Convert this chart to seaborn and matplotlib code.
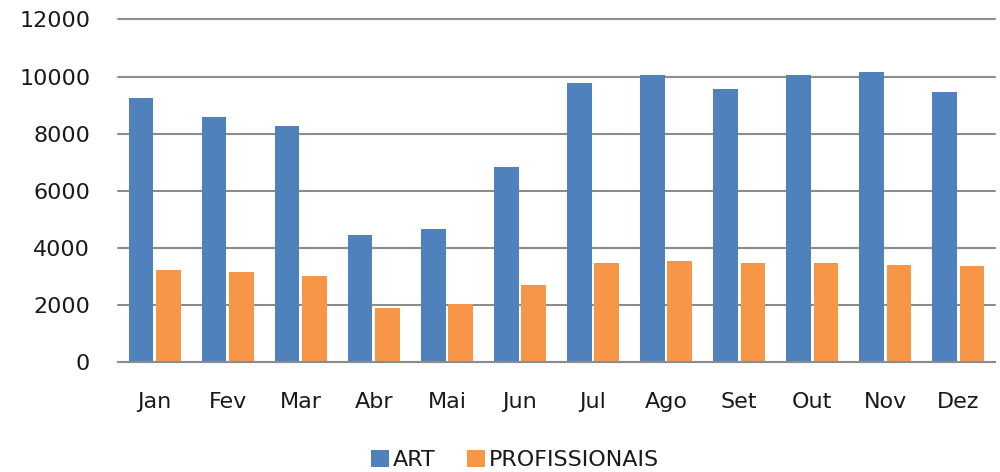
import matplotlib
matplotlib.use("Agg")
import matplotlib.pyplot as plt
import seaborn as sns
import pandas as pd

months = ["Jan", "Fev", "Mar", "Abr", "Mai", "Jun", "Jul", "Ago", "Set", "Out", "Nov", "Dez"]
art = [9250, 8570, 8260, 4450, 4660, 6840, 9780, 10070, 9550, 10070, 10150, 9470]
prof = [3250, 3180, 3010, 1890, 2030, 2710, 3480, 3550, 3480, 3480, 3400, 3390]
series_names = ["ART", "PROFISSIONAIS"]
yticks = [0, 2000, 4000, 6000, 8000, 10000, 12000]

df = pd.DataFrame({
    "Mes": months * 2,
    "Valor": art + prof,
    "Serie": [series_names[0]] * len(months) + [series_names[1]] * len(months),
})

sns.set_theme(style="white")
plt.rcParams["font.family"] = ["DejaVu Sans"]

fig = plt.figure(figsize=(10, 4.72), dpi=100)
ax = fig.add_axes([0.118, 0.232, 0.877, 0.727])

palette = {"ART": "#4F81BD", "PROFISSIONAIS": "#F79646"}
sns.barplot(data=df, x="Mes", y="Valor", hue="Serie", order=months,
            hue_order=series_names, palette=palette, width=0.75, gap=0.1,
            saturation=1, ax=ax, zorder=3, edgecolor="none")

ax.set_ylim(0, 12000)
ax.set_xlim(-0.5, len(months) - 0.5)
ax.set_yticks(yticks)
ax.set_yticklabels([str(v) for v in yticks])
ax.yaxis.grid(True, color="#8C8C8C", linewidth=1.5, zorder=0)
for gl in ax.get_ygridlines():
    gl.set_clip_on(False)
ax.set_axisbelow(True)
for s in ["top", "right", "left"]:
    ax.spines[s].set_visible(False)
ax.spines["bottom"].set_color("#8C8C8C")
ax.spines["bottom"].set_linewidth(1.5)
ax.spines["bottom"].set_zorder(4)
ax.tick_params(axis="y", length=0, pad=20, labelsize=16, labelcolor="#1a1a1a")
ax.tick_params(axis="x", length=0, pad=21, labelsize=16, labelcolor="#1a1a1a")
ax.set_xlabel("")
ax.set_ylabel("")

leg = ax.legend(loc="center", bbox_to_anchor=(0.453, -0.284), ncol=2,
                frameon=False, fontsize=16, handlelength=0.8, handleheight=0.8,
                handletextpad=0.2, columnspacing=1.4, borderpad=0)
for t in leg.get_texts():
    t.set_color("#1a1a1a")

fig.savefig("out.png", dpi=100)
